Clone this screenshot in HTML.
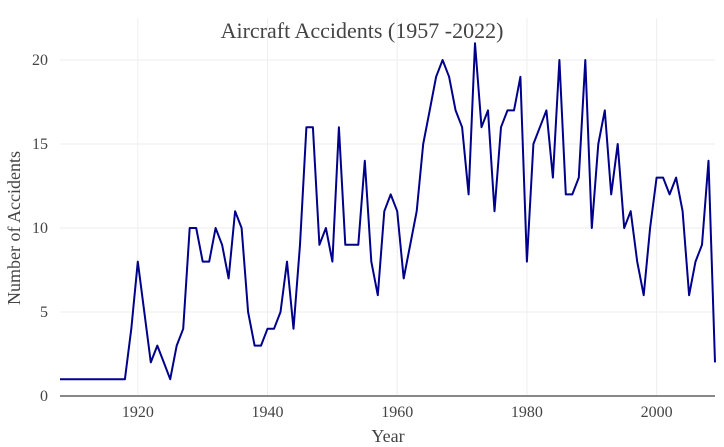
<!DOCTYPE html>
<html><head><meta charset="utf-8"><style>
html,body{margin:0;padding:0;background:#fff;}
svg{display:block;font-family:"Liberation Serif",serif;}
</style></head><body>
<svg id="chart" width="724" height="447">
<text x="362" y="38" text-anchor="middle" font-size="22" fill="#444">Aircraft Accidents (1957 -2022)</text>
<g id="grid"></g>
<g id="ticks"></g>
<text x="388" y="442" text-anchor="middle" font-size="18" fill="#444">Year</text>
<text transform="translate(20,228) rotate(-90)" text-anchor="middle" font-size="18" fill="#444">Number of Accidents</text>
<g id="marks"></g>
</svg>
<script>
const years = [];
for (let y = 1908; y <= 2009; y++) years.push(y);
const accidents = [1,1,1,1,1,1,1,1,1,1,1,4,8,5,2,3,2,1,3,4,10,10,8,8,10,9,7,11,10,5,3,3,4,4,5,8,4,9,16,16,9,10,8,16,9,9,9,14,8,6,11,12,11,7,9,11,15,17,19,20,19,17,16,12,21,16,17,11,16,17,17,19,8,15,16,17,13,20,12,12,13,20,10,15,17,12,15,10,11,8,6,10,13,13,12,13,11,6,8,9,14,2];
const xTicks = [1920,1940,1960,1980,2000];
const yTicks = [0,5,10,15,20];

const ns = "http://www.w3.org/2000/svg";
const xMin = 1908, xMax = 2009, L = 60, R = 715;
const X = v => L + (v - xMin) * (R - L) / (xMax - xMin);
const Y = v => 396 - v * 16.8;
const grid = document.getElementById('grid');
const ticks = document.getElementById('ticks');
const marks = document.getElementById('marks');
function mk(tag, attrs, parent){const e=document.createElementNS(ns,tag);for(const k in attrs)e.setAttribute(k,attrs[k]);parent.appendChild(e);return e;}

xTicks.forEach(t=>{
  const g = mk('line',{x1:X(t),x2:X(t),y1:18,y2:396,stroke:'#eee','stroke-width':1},grid);
  
  
  const tx = mk('text',{x:X(t),y:417,'text-anchor':'middle','font-size':16,fill:'#444'},ticks);
  tx.textContent = t;
  
  
});
yTicks.forEach(t=>{
  if(t>0){
    const g = mk('line',{x1:L,x2:R,y1:Y(t),y2:Y(t),stroke:'#eee','stroke-width':1},grid);
    
    
  }
  const tx = mk('text',{x:48,y:Y(t)+5,'text-anchor':'end','font-size':16,fill:'#444'},ticks);
  tx.textContent = t;
  
  
});
const zl = mk('line',{x1:L,x2:R,y1:396,y2:396,stroke:'#888','stroke-width':2},grid);



const pts = years.map((y,i)=>X(y).toFixed(1)+','+Y(accidents[i]).toFixed(1)).join(' ');
const line = mk('polyline',{points:pts,fill:'none',stroke:'#00008b','stroke-width':2,'stroke-linejoin':'round'},marks);


</script>
</body></html>
